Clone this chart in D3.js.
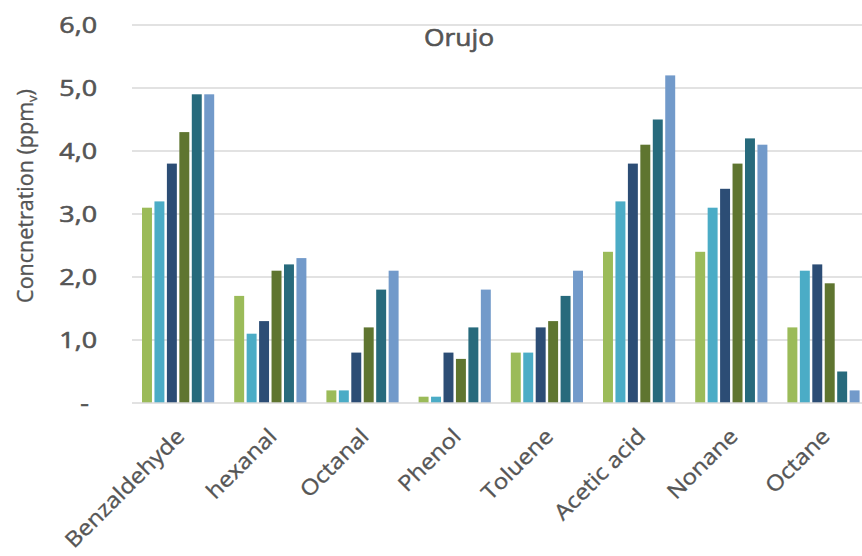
<!DOCTYPE html>
<html>
<head>
<meta charset="utf-8">
<script src="https://cdn.jsdelivr.net/npm/d3@7"></script>
<style>
  html, body { margin: 0; padding: 0; background: #fff; }
  svg { display: block; }
  text { font-family: "Open Sans", "Noto Sans", sans-serif; fill: #555555; stroke: #555555; stroke-width: 0.35; }
</style>
</head>
<body>
<svg id="chart" width="862" height="556"></svg>
<script>
// Compounds measured
const categories = ["Benzaldehyde", "hexanal", "Octanal", "Phenol", "Toluene", "Acetic acid", "Nonane", "Octane"];

// Six sampling series, one value per compound (ppmv)
const series1 = [3.1, 1.7, 0.2, 0.1, 0.8, 2.4, 2.4, 1.2];
const series2 = [3.2, 1.1, 0.2, 0.1, 0.8, 3.2, 3.1, 2.1];
const series3 = [3.8, 1.3, 0.8, 0.8, 1.2, 3.8, 3.4, 2.2];
const series4 = [4.3, 2.1, 1.2, 0.7, 1.3, 4.1, 3.8, 1.9];
const series5 = [4.9, 2.2, 1.8, 1.2, 1.7, 4.5, 4.2, 0.5];
const series6 = [4.9, 2.3, 2.1, 1.8, 2.1, 5.2, 4.1, 0.2];

const yTicks = [0, 1, 2, 3, 4, 5, 6];
const seriesColors = ["#9bbb59", "#4bacc6", "#2c4d75", "#5f7530", "#276a7c", "#729aca"];

const allSeries = [series1, series2, series3, series4, series5, series6];
const seriesKeys = allSeries.map((_, i) => "s" + i);

const svg = d3.select("#chart");
const plot = { left: 132, right: 869.6, top: 25, bottom: 403 };

// Widen glyphs horizontally along the text direction
function widen(sel, factor) {
  sel.each(function () {
    const len = this.getComputedTextLength();
    d3.select(this)
      .attr("textLength", len * factor)
      .attr("lengthAdjust", "spacingAndGlyphs");
  });
}

const x0 = d3.scaleBand()
  .domain(categories)
  .range([plot.left, plot.right])
  .paddingInner(0.217)
  .paddingOuter(0.1085);

const x1 = d3.scaleBand()
  .domain(seriesKeys)
  .range([0, x0.bandwidth()])
  .paddingInner(0.2);

const y = d3.scaleLinear().domain([0, 6]).range([plot.bottom, plot.top]);

// Horizontal gridlines
svg.append("g")
  .selectAll("line")
  .data(yTicks.filter(t => t > 0))
  .join("line")
  .attr("x1", plot.left)
  .attr("x2", 862)
  .attr("y1", d => y(d))
  .attr("y2", d => y(d))
  .attr("stroke", "#d9d9d9")
  .attr("stroke-width", 1.5);

// Y axis tick labels
const fmt = d => d === 0 ? "-" : d3.format(".1f")(d).replace(".", ",");
const yLabels = svg.append("g")
  .selectAll("text")
  .data(yTicks)
  .join("text")
  .attr("x", d => d === 0 ? 89 : 97)
  .attr("y", d => y(d))
  .attr("dy", "0.36em")
  .attr("text-anchor", "end")
  .attr("font-size", 22)
  .style("stroke-width", 0.6)
  .text(fmt);
widen(yLabels, 1.22);

// Grouped bars
const groups = svg.append("g")
  .selectAll("g")
  .data(categories.map((c, i) => ({ cat: c, values: allSeries.map((s, k) => ({ key: seriesKeys[k], v: s[i], color: seriesColors[k] })) })))
  .join("g")
  .attr("transform", d => `translate(${x0(d.cat)},0)`);

groups.selectAll("rect")
  .data(d => d.values)
  .join("rect")
  .attr("x", d => x1(d.key))
  .attr("width", x1.bandwidth())
  .attr("y", d => y(d.v))
  .attr("height", d => y(0) - y(d.v))
  .attr("fill", d => d.color);

// Category axis line
svg.append("line")
  .attr("x1", plot.left)
  .attr("x2", 862)
  .attr("y1", y(0))
  .attr("y2", y(0))
  .attr("stroke", "#d9d9d9")
  .attr("stroke-width", 1.5);

// Category labels, slanted
const xLabels = svg.append("g")
  .selectAll("text")
  .data(categories)
  .join("text")
  .attr("transform", d => `translate(${x0(d) + x0.bandwidth() / 2 - 3},${427}) rotate(-45)`)
  .attr("text-anchor", "end")
  .attr("dy", "0.7em")
  .attr("font-size", 21.5)
  .text(d => d);
widen(xLabels, 1.12);

// Chart title
const title = svg.append("text")
  .attr("x", 459)
  .attr("y", 45.5)
  .attr("text-anchor", "middle")
  .attr("font-size", 24)
  .style("stroke-width", 0.6)
  .text("Orujo");
widen(title, 1.1);

// Y axis title with subscript
const yTitle = svg.append("text")
  .attr("transform", "translate(33,196) rotate(-90)")
  .attr("text-anchor", "middle")
  .attr("font-size", 21.5);
yTitle.append("tspan").text("Concnetration (ppm");
yTitle.append("tspan").attr("font-size", 13).attr("dy", 4).text("v");
yTitle.append("tspan").attr("dy", -4).text(")");
</script>
</body>
</html>
